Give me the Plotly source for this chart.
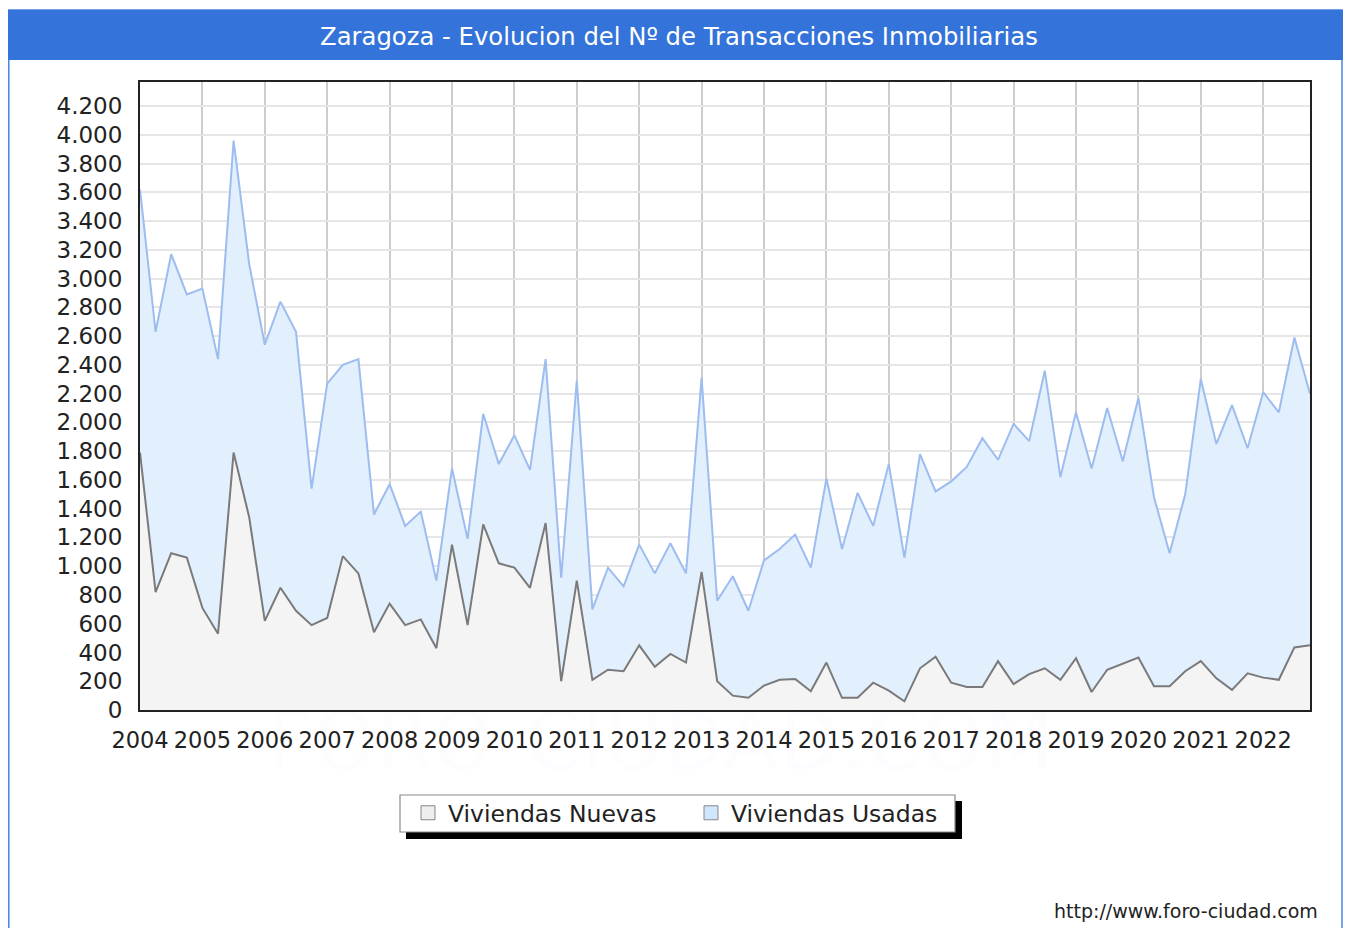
import plotly.graph_objects as go

# Quarterly data 2004Q1 .. 2022Q4
years = list(range(2004, 2023))
quarters = [y + q / 4 for y in years for q in range(4)]

viviendas_usadas = [
    3620, 2630, 3170, 2890, 2930, 2440, 3960, 3100,
    2540, 2840, 2630, 1540, 2270, 2400, 2440, 1360,
    1570, 1280, 1380, 900, 1680, 1190, 2060, 1710,
    1910, 1670, 2440, 920, 2290, 700, 990, 860,
    1150, 950, 1160, 950, 2310, 760, 930, 690,
    1040, 1120, 1220, 990, 1610, 1120, 1510, 1280,
    1710, 1060, 1780, 1520, 1590, 1690, 1890, 1740,
    1990, 1870, 2360, 1620, 2070, 1680, 2100, 1730,
    2170, 1480, 1090, 1500, 2300, 1850, 2120, 1820,
    2210, 2070, 2590, 2200,
]
viviendas_nuevas = [
    1790, 820, 1090, 1060, 710, 530, 1790, 1340,
    620, 850, 690, 590, 640, 1070, 950, 540,
    740, 590, 630, 430, 1150, 590, 1290, 1020,
    990, 850, 1300, 200, 900, 210, 280, 270,
    450, 300, 390, 330, 960, 200, 100, 85,
    170, 210, 215, 130, 330, 85, 85, 190,
    135, 60, 290, 370, 190, 160, 160, 340,
    180, 250, 290, 210, 360, 125, 280, 320,
    365, 165, 165, 270, 340, 220, 140, 255,
    225, 210, 435, 450,
]
year_labels = [str(y) for y in years]
y_ticks = list(range(0, 4201, 200))
legend_names = ["Viviendas Nuevas", "Viviendas Usadas"]

title_text = "Zaragoza - Evolucion del Nº de Transacciones Inmobiliarias"
footer_text = "http://www.foro-ciudad.com"

OFF = 8                      # page body margin
PAGE_W, PAGE_H = 1351, 936
W, H = PAGE_W - OFF, PAGE_H - 2 * OFF
L, R, T, B = 140, 1310, 82, 710  # plot area in page pixels


def px(xp):
    return (xp - L) / (R - L)


def py(yp):
    return (B - yp) / (B - T)


FONT = "DejaVu Sans"

fig = go.Figure()
fig.add_trace(go.Scatter(
    x=quarters, y=viviendas_usadas, mode="lines", fill="tozeroy",
    line=dict(color="#9dbcf0", width=2), fillcolor="#e2effd",
    showlegend=False, hoverinfo="x+y",
))
fig.add_trace(go.Scatter(
    x=quarters, y=viviendas_nuevas, mode="lines", fill="tozeroy",
    line=dict(color="#7a7a7a", width=2), fillcolor="#f4f4f4",
    showlegend=False, hoverinfo="x+y",
))
# legend entries
fig.add_trace(go.Scatter(
    x=[None], y=[None], mode="markers", name=legend_names[0],
    marker=dict(symbol="square", size=14, color="#eeeeee",
                line=dict(color="#888888", width=1)),
))
fig.add_trace(go.Scatter(
    x=[None], y=[None], mode="markers", name=legend_names[1],
    marker=dict(symbol="square", size=14, color="#cfe6fd",
                line=dict(color="#888888", width=1)),
))

shapes = [
    # outer frame
    dict(type="rect", xref="paper", yref="paper",
         x0=px(8.8), x1=px(1342), y0=py(945), y1=py(10),
         line=dict(color="#4a84df", width=1.5), fillcolor="rgba(0,0,0,0)", layer="below"),
    # title bar
    dict(type="rect", xref="paper", yref="paper",
         x0=px(6), x1=px(1348), y0=py(60), y1=py(10),
         line=dict(width=0), fillcolor="#3473d9", layer="below"),
    # legend shadow
    dict(type="rect", xref="paper", yref="paper",
         x0=px(406), x1=px(962), y0=py(839), y1=py(801),
         line=dict(width=0), fillcolor="#000000", layer="below"),
    # legend box
    dict(type="rect", xref="paper", yref="paper",
         x0=px(400), x1=px(955), y0=py(832), y1=py(795),
         line=dict(color="#8a8a8a", width=1.2), fillcolor="#ffffff", layer="below"),
]

annotations = [
    dict(text='<span style="color:rgba(0,0,0,0.085)">FORO-</span>'
              '<span style="color:rgba(80,80,255,0.12)">CIUDAD.COM</span>',
         xref="paper", yref="paper", x=px(660), y=py(741),
         xanchor="center", yanchor="middle", showarrow=False,
         font=dict(family=FONT, size=80, color="rgba(0,0,0,0.085)")),
    dict(text=title_text, xref="paper", yref="paper", x=px(679), y=py(37),
         xanchor="center", yanchor="middle", showarrow=False,
         font=dict(family=FONT, size=24.3, color="#ffffff")),
    dict(text=footer_text, xref="paper", yref="paper", x=px(1320), y=py(911),
         xanchor="right", yanchor="middle", showarrow=False,
         font=dict(family=FONT, size=19, color="#222222")),
]

fig.update_layout(
    width=W, height=H,
    margin=dict(l=L - OFF, r=PAGE_W - R, t=T - OFF, b=(PAGE_H - OFF) - B, pad=0),
    paper_bgcolor="#ffffff", plot_bgcolor="#ffffff",
    separators=",.",
    font=dict(family=FONT, size=22, color="#222222"),
    shapes=shapes, annotations=annotations,
    showlegend=True,
    legend=dict(orientation="h", x=px(408), y=py(791), xanchor="left", yanchor="top",
                bgcolor="rgba(0,0,0,0)", borderwidth=0,
                entrywidth=238, entrywidthmode="pixels",
                font=dict(family=FONT, size=23.5, color="#222222"),
                itemclick=False, itemdoubleclick=False),
    hovermode="closest",
)
fig.update_xaxes(
    range=[2004, 2022.75], tickmode="array", tickvals=years, ticktext=year_labels,
    showgrid=True, gridcolor="#cdcdcd", gridwidth=2,
    showline=True, linecolor="#222222", linewidth=2, mirror=True,
    ticks="outside", ticklen=9, tickcolor="rgba(0,0,0,0)", zeroline=False,
    tickfont=dict(family=FONT, size=22.5, color="#222222"),
)
fig.update_yaxes(
    range=[0, 4367], tickmode="array", tickvals=y_ticks, tickformat=",d",
    showgrid=True, gridcolor="#e6e6e6", gridwidth=2,
    showline=True, linecolor="#222222", linewidth=2, mirror=True,
    ticks="outside", ticklen=11, tickcolor="rgba(0,0,0,0)", zeroline=False,
    tickfont=dict(family=FONT, size=23, color="#222222"),
)

fig.write_html("out.html")
